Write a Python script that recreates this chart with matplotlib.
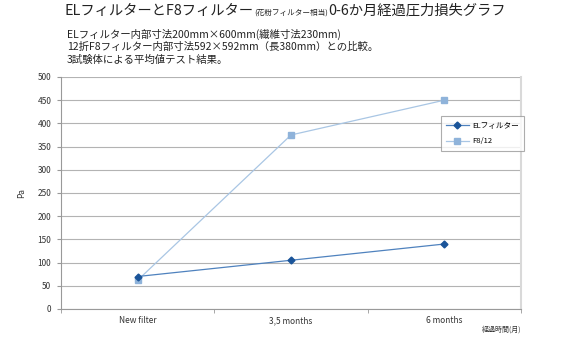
import matplotlib.pyplot as plt
import numpy as np

plt.rcParams['font.family'] = ['Noto Sans CJK JP', 'DejaVu Sans']

categories = ['New filter', '3,5 months', '6 months']
el_values = [70, 105, 140]
f8_values = [62, 375, 450]
yticks = [0, 50, 100, 150, 200, 250, 300, 350, 400, 450, 500]

fig = plt.figure(figsize=(5.77, 3.51), dpi=100)
ax = fig.add_axes([0.1057, 0.1197, 0.7973, 0.661])

x = np.arange(len(categories))
ax.plot(x, f8_values, color='#a9c6e4', lw=0.9, marker='s', ms=5,
        mfc='#8fb3da', mec='#8fb3da', label='F8/12', zorder=3)
ax.plot(x, el_values, color='#4f82be', lw=0.9, marker='D', ms=3.5,
        mfc='#1a5499', mec='#1a5499', label='ELフィルター', zorder=4)

ax.set_xlim(-0.5, 2.5)
ax.set_ylim(0, 500)
ax.set_yticks(yticks)
ax.set_yticklabels([str(v) for v in yticks], fontsize=6, color='#333333')
ax.set_xticks(x)
ax.set_xticklabels(categories, fontsize=6, color='#333333')
ax.set_xticks([-0.5, 0.5, 1.5, 2.5], minor=True)
ax.tick_params(axis='x', which='major', length=0, pad=5)
ax.tick_params(axis='x', which='minor', length=3, color='#999999')
ax.tick_params(axis='y', length=3, color='#999999', pad=4)
ax.yaxis.grid(True, color='#b3b3b3', lw=0.8)
ax.set_axisbelow(True)

ax.spines['top'].set_visible(False)
ax.spines['right'].set_color('#d9d9d9')
ax.spines['right'].set_linewidth(1.5)
ax.spines['left'].set_color('#999999')
ax.spines['bottom'].set_color('#999999')

ax.set_ylabel('Pa', fontsize=6, color='#333333', labelpad=8)

leg = ax.legend(handles=ax.get_lines()[::-1], loc='upper left',
                bbox_to_anchor=(0.825, 0.83), fontsize=5.5, frameon=True,
                fancybox=False, edgecolor='#999999', handlelength=3.0,
                handletextpad=0.4, borderpad=0.7, labelspacing=1.0,
                borderaxespad=0)
leg.get_frame().set_linewidth(0.8)

# title built from pieces of different sizes, placed one after another
renderer = fig.canvas.get_renderer()
pieces = [('ELフィルターとF8フィルター', 10.3, 0.0),
          ('(花粉フィルター相当)', 5.5, -2.0),
          ('0-6か月経過圧力損失グラフ', 10.3, 0.0)]
xpos = 65
for txt, size, dy in pieces:
    t = fig.text(xpos / 577, (351 - 11 + dy) / 351, txt, fontsize=size,
                 va='center', color='#222222')
    xpos = t.get_window_extent(renderer).x1

fig.text(0.116, 1 - 34 / 351, 'ELフィルター内部寸法200mm×600mm(繊維寸法230mm)', fontsize=7.5, va='center', color='#222222')
fig.text(0.116, 1 - 47 / 351, '12折F8フィルター内部寸法592×592mm（長380mm）との比較。', fontsize=7.5, va='center', color='#222222')
fig.text(0.116, 1 - 60 / 351, '3試験体による平均値テスト結果。', fontsize=7.5, va='center', color='#222222')

fig.text(0.903, 0.06, '経過時間(月)', fontsize=5, ha='right', va='center', color='#333333')

fig.savefig('out.png', dpi=100)
